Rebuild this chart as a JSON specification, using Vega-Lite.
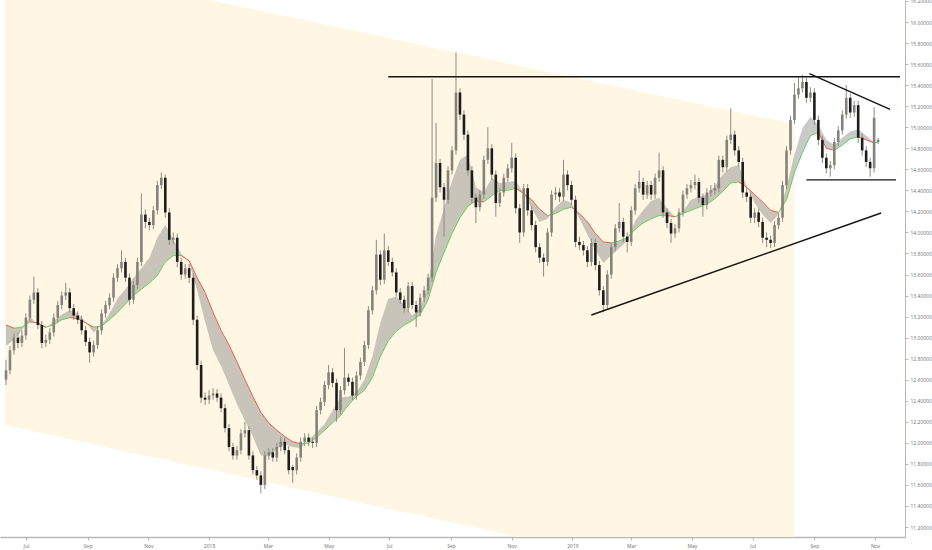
{
  "$schema": "https://vega.github.io/schema/vega-lite/v6.json",
  "width": 905,
  "height": 537,
  "autosize": {"type": "none"},
  "padding": {"left": 0, "top": 0, "right": 27, "bottom": 13},
  "background": "#ffffff",
  "view": {"stroke": null},
  "config": {
    "axis": {
      "labelFont": "Open Sans",
      "labelFontSize": 5,
      "labelColor": "#707070",
      "domainColor": "#b8b8b8",
      "tickColor": "#b8b8b8",
      "tickSize": 3,
      "grid": false,
      "title": null,
      "labelOverlap": false,
      "labelFlush": false
    }
  },
  "layer": [
    {
      "data": {
        "values": [
          {"date": "2017-06-10", "top": 16.62, "bottom": 12.17},
          {"date": "2019-08-12", "top": 15.03, "bottom": 10.53}
        ]
      },
      "mark": {"type": "area", "color": "#fff7e3", "clip": true},
      "encoding": {
        "x": {
          "field": "date", "type": "temporal", "title": null,
          "scale": {"type": "utc", "nice": false, "domain": [{"year": 2017, "month": 6, "date": 10, "utc": true}, {"year": 2019, "month": 11, "date": 26, "utc": true}]},
          "axis": {
            "orient": "bottom",
            "domainWidth": 1.5,
            "labelPadding": 3,
            "labelOverlap": false,
            "tickCount": 40,
            "values": [
              {"year": 2017, "month": 7, "date": 1, "utc": true},
              {"year": 2017, "month": 9, "date": 1, "utc": true},
              {"year": 2017, "month": 11, "date": 1, "utc": true},
              {"year": 2018, "month": 1, "date": 1, "utc": true},
              {"year": 2018, "month": 3, "date": 1, "utc": true},
              {"year": 2018, "month": 5, "date": 1, "utc": true},
              {"year": 2018, "month": 7, "date": 1, "utc": true},
              {"year": 2018, "month": 9, "date": 1, "utc": true},
              {"year": 2018, "month": 11, "date": 1, "utc": true},
              {"year": 2019, "month": 1, "date": 1, "utc": true},
              {"year": 2019, "month": 3, "date": 1, "utc": true},
              {"year": 2019, "month": 5, "date": 1, "utc": true},
              {"year": 2019, "month": 7, "date": 1, "utc": true},
              {"year": 2019, "month": 9, "date": 1, "utc": true},
              {"year": 2019, "month": 11, "date": 1, "utc": true}
            ],
            "labelExpr": "utcFormat(datum.value, '%m') == '01' ? utcFormat(datum.value, '%Y') : utcFormat(datum.value, '%b')"
          }
        },
        "y": {
          "field": "top", "type": "quantitative", "title": null,
          "scale": {"domain": [11.105, 16.2095], "nice": false, "zero": false},
          "axis": {
            "orient": "right",
            "labelPadding": 2,
            "labelOverlap": false,
            "labelBound": false,
            "tickCount": 40,
            "format": ".5f",
            "values": [11.2, 11.4, 11.6, 11.8, 12, 12.2, 12.4, 12.6, 12.8, 13, 13.2, 13.4, 13.6, 13.8, 14, 14.2, 14.4, 14.6, 14.8, 15, 15.2, 15.4, 15.6, 15.8, 16, 16.2]
          }
        },
        "y2": {"field": "bottom"}
      }
    },
    {
      "data": {
        "name": "ema",
        "values": [
          {"date": "2017-06-11", "slow": 13.12, "fast": 12.92},
          {"date": "2017-06-19", "slow": 13.09, "fast": 12.98},
          {"date": "2017-06-27", "slow": 13.10, "fast": 13.07},
          {"date": "2017-07-05", "slow": 13.15, "fast": 13.20},
          {"date": "2017-07-13", "slow": 13.14, "fast": 13.12},
          {"date": "2017-07-21", "slow": 13.10, "fast": 13.09},
          {"date": "2017-07-29", "slow": 13.12, "fast": 13.16},
          {"date": "2017-08-06", "slow": 13.17, "fast": 13.22},
          {"date": "2017-08-14", "slow": 13.19, "fast": 13.26},
          {"date": "2017-08-22", "slow": 13.18, "fast": 13.23},
          {"date": "2017-08-30", "slow": 13.14, "fast": 13.15},
          {"date": "2017-09-07", "slow": 13.10, "fast": 13.05},
          {"date": "2017-09-15", "slow": 13.11, "fast": 13.12},
          {"date": "2017-09-23", "slow": 13.17, "fast": 13.23},
          {"date": "2017-10-01", "slow": 13.24, "fast": 13.37},
          {"date": "2017-10-09", "slow": 13.32, "fast": 13.46},
          {"date": "2017-10-17", "slow": 13.40, "fast": 13.57},
          {"date": "2017-10-25", "slow": 13.46, "fast": 13.66},
          {"date": "2017-11-02", "slow": 13.52, "fast": 13.76},
          {"date": "2017-11-10", "slow": 13.59, "fast": 13.95},
          {"date": "2017-11-18", "slow": 13.72, "fast": 14.07},
          {"date": "2017-11-26", "slow": 13.78, "fast": 13.93},
          {"date": "2017-12-04", "slow": 13.78, "fast": 13.80},
          {"date": "2017-12-12", "slow": 13.73, "fast": 13.72},
          {"date": "2017-12-20", "slow": 13.57, "fast": 13.45},
          {"date": "2017-12-28", "slow": 13.43, "fast": 13.15},
          {"date": "2018-01-05", "slow": 13.24, "fast": 12.88},
          {"date": "2018-01-13", "slow": 13.07, "fast": 12.73},
          {"date": "2018-01-21", "slow": 12.93, "fast": 12.55},
          {"date": "2018-01-29", "slow": 12.77, "fast": 12.37},
          {"date": "2018-02-06", "slow": 12.60, "fast": 12.21},
          {"date": "2018-02-14", "slow": 12.44, "fast": 12.06},
          {"date": "2018-02-22", "slow": 12.29, "fast": 11.88},
          {"date": "2018-03-02", "slow": 12.19, "fast": 11.87},
          {"date": "2018-03-10", "slow": 12.12, "fast": 11.94},
          {"date": "2018-03-18", "slow": 12.06, "fast": 11.99},
          {"date": "2018-03-26", "slow": 12.01, "fast": 11.96},
          {"date": "2018-04-03", "slow": 11.99, "fast": 11.95},
          {"date": "2018-04-11", "slow": 12.00, "fast": 12.03},
          {"date": "2018-04-19", "slow": 12.05, "fast": 12.10},
          {"date": "2018-04-27", "slow": 12.12, "fast": 12.18},
          {"date": "2018-05-05", "slow": 12.19, "fast": 12.31},
          {"date": "2018-05-13", "slow": 12.26, "fast": 12.43},
          {"date": "2018-05-21", "slow": 12.36, "fast": 12.44},
          {"date": "2018-05-29", "slow": 12.44, "fast": 12.48},
          {"date": "2018-06-06", "slow": 12.50, "fast": 12.60},
          {"date": "2018-06-14", "slow": 12.62, "fast": 12.82},
          {"date": "2018-06-22", "slow": 12.82, "fast": 13.14},
          {"date": "2018-06-30", "slow": 12.97, "fast": 13.37},
          {"date": "2018-07-08", "slow": 13.06, "fast": 13.39},
          {"date": "2018-07-16", "slow": 13.12, "fast": 13.31},
          {"date": "2018-07-24", "slow": 13.16, "fast": 13.21},
          {"date": "2018-08-01", "slow": 13.22, "fast": 13.28},
          {"date": "2018-08-09", "slow": 13.36, "fast": 13.50},
          {"date": "2018-08-17", "slow": 13.62, "fast": 13.97},
          {"date": "2018-08-25", "slow": 13.81, "fast": 14.23},
          {"date": "2018-09-02", "slow": 13.99, "fast": 14.49},
          {"date": "2018-09-10", "slow": 14.14, "fast": 14.69},
          {"date": "2018-09-18", "slow": 14.25, "fast": 14.74},
          {"date": "2018-09-26", "slow": 14.30, "fast": 14.43},
          {"date": "2018-10-04", "slow": 14.29, "fast": 14.38},
          {"date": "2018-10-12", "slow": 14.35, "fast": 14.52},
          {"date": "2018-10-20", "slow": 14.40, "fast": 14.47},
          {"date": "2018-10-28", "slow": 14.40, "fast": 14.48},
          {"date": "2018-11-05", "slow": 14.42, "fast": 14.49},
          {"date": "2018-11-13", "slow": 14.37, "fast": 14.37},
          {"date": "2018-11-21", "slow": 14.31, "fast": 14.23},
          {"date": "2018-11-29", "slow": 14.22, "fast": 14.10},
          {"date": "2018-12-07", "slow": 14.16, "fast": 14.13},
          {"date": "2018-12-15", "slow": 14.18, "fast": 14.24},
          {"date": "2018-12-23", "slow": 14.22, "fast": 14.31},
          {"date": "2018-12-31", "slow": 14.24, "fast": 14.28},
          {"date": "2019-01-08", "slow": 14.18, "fast": 14.13},
          {"date": "2019-01-16", "slow": 14.10, "fast": 13.98},
          {"date": "2019-01-24", "slow": 13.99, "fast": 13.83},
          {"date": "2019-02-01", "slow": 13.91, "fast": 13.71},
          {"date": "2019-02-09", "slow": 13.90, "fast": 13.78},
          {"date": "2019-02-17", "slow": 13.92, "fast": 13.85},
          {"date": "2019-02-25", "slow": 13.95, "fast": 13.92},
          {"date": "2019-03-05", "slow": 14.03, "fast": 14.11},
          {"date": "2019-03-13", "slow": 14.09, "fast": 14.21},
          {"date": "2019-03-21", "slow": 14.13, "fast": 14.30},
          {"date": "2019-03-29", "slow": 14.16, "fast": 14.33},
          {"date": "2019-04-06", "slow": 14.16, "fast": 14.23},
          {"date": "2019-04-14", "slow": 14.15, "fast": 14.15},
          {"date": "2019-04-22", "slow": 14.18, "fast": 14.20},
          {"date": "2019-04-30", "slow": 14.21, "fast": 14.31},
          {"date": "2019-05-08", "slow": 14.24, "fast": 14.34},
          {"date": "2019-05-16", "slow": 14.27, "fast": 14.36},
          {"date": "2019-05-24", "slow": 14.32, "fast": 14.44},
          {"date": "2019-06-01", "slow": 14.39, "fast": 14.55},
          {"date": "2019-06-09", "slow": 14.47, "fast": 14.62},
          {"date": "2019-06-17", "slow": 14.48, "fast": 14.64},
          {"date": "2019-06-25", "slow": 14.43, "fast": 14.44},
          {"date": "2019-07-03", "slow": 14.36, "fast": 14.28},
          {"date": "2019-07-11", "slow": 14.29, "fast": 14.17},
          {"date": "2019-07-19", "slow": 14.21, "fast": 14.09},
          {"date": "2019-07-27", "slow": 14.19, "fast": 14.17},
          {"date": "2019-08-04", "slow": 14.31, "fast": 14.43},
          {"date": "2019-08-12", "slow": 14.57, "fast": 14.74},
          {"date": "2019-08-20", "slow": 14.76, "fast": 14.99},
          {"date": "2019-08-28", "slow": 14.92, "fast": 15.10},
          {"date": "2019-09-05", "slow": 14.95, "fast": 15.02},
          {"date": "2019-09-13", "slow": 14.80, "fast": 14.88},
          {"date": "2019-09-21", "slow": 14.78, "fast": 14.83},
          {"date": "2019-09-29", "slow": 14.83, "fast": 14.90},
          {"date": "2019-10-07", "slow": 14.89, "fast": 14.96},
          {"date": "2019-10-15", "slow": 14.91, "fast": 14.98},
          {"date": "2019-10-23", "slow": 14.88, "fast": 14.92},
          {"date": "2019-10-31", "slow": 14.85, "fast": 14.86},
          {"date": "2019-11-04", "slow": 14.86, "fast": 14.85}
        ],
        "format": {"parse": {"date": "date"}}
      },
      "layer": [
        {
          "mark": {"type": "area", "color": "#7f7f7f", "opacity": 0.42, "clip": true},
          "encoding": {
            "x": {"field": "date", "type": "temporal", "title": null, "scale": {"type": "utc", "nice": false, "domain": [{"year": 2017, "month": 6, "date": 10, "utc": true}, {"year": 2019, "month": 11, "date": 26, "utc": true}]}},
            "y": {"field": "fast", "type": "quantitative", "title": null, "scale": {"domain": [11.105, 16.2095], "nice": false, "zero": false}},
            "y2": {"field": "slow"}
          }
        },
        {
          "transform": [
            {"window": [{"op": "lead", "field": "slow", "as": "slowNext"}, {"op": "lead", "field": "date", "as": "dateNext"}], "sort": [{"field": "date"}]},
            {"filter": "datum.slowNext != null"}
          ],
          "mark": {"type": "rule", "strokeWidth": 1, "clip": true},
          "encoding": {
            "x": {"field": "date", "type": "temporal", "title": null, "scale": {"type": "utc", "nice": false, "domain": [{"year": 2017, "month": 6, "date": 10, "utc": true}, {"year": 2019, "month": 11, "date": 26, "utc": true}]}},
            "x2": {"field": "dateNext"},
            "y": {"field": "slow", "type": "quantitative", "title": null, "scale": {"domain": [11.105, 16.2095], "nice": false, "zero": false}},
            "y2": {"field": "slowNext"},
            "color": {"condition": {"test": "datum.slowNext >= datum.slow", "value": "#5fd35f"}, "value": "#e9604c"}
          }
        }
      ]
    },
    {
      "data": {
        "values": [
          {"date": "2017-06-11", "open": 12.60, "high": 12.79, "low": 12.55, "close": 12.69},
          {"date": "2017-06-15", "open": 12.69, "high": 12.92, "low": 12.65, "close": 12.88},
          {"date": "2017-06-19", "open": 12.88, "high": 13.04, "low": 12.84, "close": 13.00},
          {"date": "2017-06-23", "open": 13.00, "high": 13.05, "low": 12.90, "close": 12.95},
          {"date": "2017-06-27", "open": 12.95, "high": 13.07, "low": 12.91, "close": 13.02},
          {"date": "2017-07-01", "open": 13.02, "high": 13.23, "low": 12.98, "close": 13.19},
          {"date": "2017-07-05", "open": 13.19, "high": 13.40, "low": 13.15, "close": 13.36},
          {"date": "2017-07-09", "open": 13.36, "high": 13.58, "low": 13.32, "close": 13.43},
          {"date": "2017-07-13", "open": 13.43, "high": 13.47, "low": 13.08, "close": 13.12},
          {"date": "2017-07-17", "open": 13.12, "high": 13.16, "low": 12.90, "close": 12.95},
          {"date": "2017-07-21", "open": 12.95, "high": 13.03, "low": 12.91, "close": 12.98},
          {"date": "2017-07-25", "open": 12.98, "high": 13.09, "low": 12.94, "close": 13.05},
          {"date": "2017-07-29", "open": 13.05, "high": 13.23, "low": 13.01, "close": 13.19},
          {"date": "2017-08-02", "open": 13.19, "high": 13.35, "low": 13.15, "close": 13.31},
          {"date": "2017-08-06", "open": 13.31, "high": 13.44, "low": 13.27, "close": 13.40},
          {"date": "2017-08-10", "open": 13.40, "high": 13.52, "low": 13.36, "close": 13.43},
          {"date": "2017-08-14", "open": 13.43, "high": 13.47, "low": 13.24, "close": 13.28},
          {"date": "2017-08-18", "open": 13.28, "high": 13.32, "low": 13.17, "close": 13.21},
          {"date": "2017-08-22", "open": 13.21, "high": 13.25, "low": 13.13, "close": 13.17},
          {"date": "2017-08-26", "open": 13.17, "high": 13.21, "low": 13.03, "close": 13.07},
          {"date": "2017-08-30", "open": 13.07, "high": 13.11, "low": 12.92, "close": 12.96},
          {"date": "2017-09-03", "open": 12.96, "high": 13.00, "low": 12.76, "close": 12.86},
          {"date": "2017-09-07", "open": 12.86, "high": 12.97, "low": 12.82, "close": 12.93},
          {"date": "2017-09-11", "open": 12.93, "high": 13.11, "low": 12.89, "close": 13.07},
          {"date": "2017-09-15", "open": 13.07, "high": 13.27, "low": 13.03, "close": 13.23},
          {"date": "2017-09-19", "open": 13.23, "high": 13.35, "low": 13.19, "close": 13.31},
          {"date": "2017-09-23", "open": 13.31, "high": 13.42, "low": 13.27, "close": 13.38},
          {"date": "2017-09-27", "open": 13.38, "high": 13.61, "low": 13.34, "close": 13.57},
          {"date": "2017-10-01", "open": 13.57, "high": 13.70, "low": 13.53, "close": 13.66},
          {"date": "2017-10-05", "open": 13.66, "high": 13.83, "low": 13.62, "close": 13.72},
          {"date": "2017-10-09", "open": 13.72, "high": 13.76, "low": 13.53, "close": 13.57},
          {"date": "2017-10-13", "open": 13.57, "high": 13.61, "low": 13.31, "close": 13.36},
          {"date": "2017-10-17", "open": 13.36, "high": 13.54, "low": 13.32, "close": 13.50},
          {"date": "2017-10-21", "open": 13.50, "high": 13.76, "low": 13.46, "close": 13.72},
          {"date": "2017-10-25", "open": 13.72, "high": 14.37, "low": 13.68, "close": 14.17},
          {"date": "2017-10-29", "open": 14.17, "high": 14.22, "low": 14.04, "close": 14.10},
          {"date": "2017-11-02", "open": 14.10, "high": 14.14, "low": 14.02, "close": 14.07},
          {"date": "2017-11-06", "open": 14.07, "high": 14.25, "low": 14.03, "close": 14.21},
          {"date": "2017-11-10", "open": 14.21, "high": 14.49, "low": 14.17, "close": 14.45},
          {"date": "2017-11-14", "open": 14.45, "high": 14.57, "low": 14.41, "close": 14.52},
          {"date": "2017-11-18", "open": 14.52, "high": 14.55, "low": 14.14, "close": 14.19},
          {"date": "2017-11-22", "open": 14.19, "high": 14.23, "low": 13.88, "close": 13.93},
          {"date": "2017-11-26", "open": 13.93, "high": 14.00, "low": 13.89, "close": 13.95},
          {"date": "2017-11-30", "open": 13.95, "high": 13.99, "low": 13.67, "close": 13.72},
          {"date": "2017-12-04", "open": 13.72, "high": 13.76, "low": 13.55, "close": 13.60},
          {"date": "2017-12-08", "open": 13.60, "high": 13.70, "low": 13.56, "close": 13.66},
          {"date": "2017-12-12", "open": 13.66, "high": 13.70, "low": 13.52, "close": 13.57},
          {"date": "2017-12-16", "open": 13.57, "high": 13.61, "low": 13.12, "close": 13.17},
          {"date": "2017-12-20", "open": 13.17, "high": 13.21, "low": 12.69, "close": 12.74},
          {"date": "2017-12-24", "open": 12.74, "high": 12.78, "low": 12.38, "close": 12.43},
          {"date": "2017-12-28", "open": 12.43, "high": 12.48, "low": 12.36, "close": 12.41},
          {"date": "2018-01-01", "open": 12.41, "high": 12.50, "low": 12.37, "close": 12.45},
          {"date": "2018-01-05", "open": 12.45, "high": 12.52, "low": 12.41, "close": 12.47},
          {"date": "2018-01-09", "open": 12.47, "high": 12.51, "low": 12.39, "close": 12.43},
          {"date": "2018-01-13", "open": 12.43, "high": 12.47, "low": 12.29, "close": 12.33},
          {"date": "2018-01-17", "open": 12.33, "high": 12.37, "low": 12.10, "close": 12.14},
          {"date": "2018-01-21", "open": 12.14, "high": 12.18, "low": 11.92, "close": 11.96},
          {"date": "2018-01-25", "open": 11.96, "high": 12.00, "low": 11.84, "close": 11.88},
          {"date": "2018-01-29", "open": 11.88, "high": 11.97, "low": 11.84, "close": 11.93},
          {"date": "2018-02-02", "open": 11.93, "high": 12.13, "low": 11.89, "close": 12.09},
          {"date": "2018-02-06", "open": 12.09, "high": 12.20, "low": 12.05, "close": 12.12},
          {"date": "2018-02-10", "open": 12.12, "high": 12.16, "low": 11.84, "close": 11.88},
          {"date": "2018-02-14", "open": 11.88, "high": 11.92, "low": 11.70, "close": 11.74},
          {"date": "2018-02-18", "open": 11.74, "high": 11.78, "low": 11.65, "close": 11.69},
          {"date": "2018-02-22", "open": 11.69, "high": 11.73, "low": 11.52, "close": 11.60},
          {"date": "2018-02-26", "open": 11.60, "high": 11.92, "low": 11.56, "close": 11.88},
          {"date": "2018-03-02", "open": 11.88, "high": 11.95, "low": 11.84, "close": 11.91},
          {"date": "2018-03-06", "open": 11.91, "high": 11.95, "low": 11.82, "close": 11.86},
          {"date": "2018-03-10", "open": 11.86, "high": 12.00, "low": 11.82, "close": 11.96},
          {"date": "2018-03-14", "open": 11.96, "high": 12.06, "low": 11.92, "close": 12.01},
          {"date": "2018-03-18", "open": 12.01, "high": 12.05, "low": 11.89, "close": 11.93},
          {"date": "2018-03-22", "open": 11.93, "high": 11.97, "low": 11.70, "close": 11.74},
          {"date": "2018-03-26", "open": 11.77, "high": 11.79, "low": 11.62, "close": 11.74},
          {"date": "2018-03-30", "open": 11.74, "high": 11.90, "low": 11.70, "close": 11.86},
          {"date": "2018-04-03", "open": 11.86, "high": 12.05, "low": 11.82, "close": 12.01},
          {"date": "2018-04-07", "open": 12.01, "high": 12.09, "low": 11.97, "close": 12.05},
          {"date": "2018-04-11", "open": 12.05, "high": 12.09, "low": 11.97, "close": 12.01},
          {"date": "2018-04-15", "open": 12.01, "high": 12.05, "low": 11.95, "close": 12.00},
          {"date": "2018-04-19", "open": 12.00, "high": 12.35, "low": 11.96, "close": 12.31},
          {"date": "2018-04-23", "open": 12.31, "high": 12.43, "low": 12.27, "close": 12.39},
          {"date": "2018-04-27", "open": 12.39, "high": 12.59, "low": 12.35, "close": 12.55},
          {"date": "2018-05-01", "open": 12.55, "high": 12.74, "low": 12.51, "close": 12.67},
          {"date": "2018-05-05", "open": 12.67, "high": 12.71, "low": 12.53, "close": 12.57},
          {"date": "2018-05-09", "open": 12.57, "high": 12.61, "low": 12.20, "close": 12.31},
          {"date": "2018-05-13", "open": 12.31, "high": 12.54, "low": 12.27, "close": 12.50},
          {"date": "2018-05-17", "open": 12.50, "high": 12.90, "low": 12.46, "close": 12.62},
          {"date": "2018-05-21", "open": 12.62, "high": 12.66, "low": 12.54, "close": 12.58},
          {"date": "2018-05-25", "open": 12.58, "high": 12.62, "low": 12.41, "close": 12.45},
          {"date": "2018-05-29", "open": 12.45, "high": 12.68, "low": 12.41, "close": 12.64},
          {"date": "2018-06-02", "open": 12.64, "high": 12.81, "low": 12.60, "close": 12.77},
          {"date": "2018-06-06", "open": 12.77, "high": 12.97, "low": 12.73, "close": 12.93},
          {"date": "2018-06-10", "open": 12.93, "high": 13.30, "low": 12.89, "close": 13.26},
          {"date": "2018-06-14", "open": 13.26, "high": 13.49, "low": 13.22, "close": 13.45},
          {"date": "2018-06-18", "open": 13.45, "high": 13.93, "low": 13.41, "close": 13.79},
          {"date": "2018-06-22", "open": 13.79, "high": 13.83, "low": 13.50, "close": 13.55},
          {"date": "2018-06-26", "open": 13.55, "high": 13.99, "low": 13.51, "close": 13.83},
          {"date": "2018-06-30", "open": 13.83, "high": 13.87, "low": 13.68, "close": 13.72},
          {"date": "2018-07-04", "open": 13.72, "high": 13.76, "low": 13.58, "close": 13.62},
          {"date": "2018-07-08", "open": 13.62, "high": 13.66, "low": 13.39, "close": 13.43},
          {"date": "2018-07-12", "open": 13.43, "high": 13.47, "low": 13.32, "close": 13.36},
          {"date": "2018-07-16", "open": 13.36, "high": 13.40, "low": 13.24, "close": 13.28},
          {"date": "2018-07-20", "open": 13.28, "high": 13.53, "low": 13.24, "close": 13.49},
          {"date": "2018-07-24", "open": 13.49, "high": 13.53, "low": 13.27, "close": 13.31},
          {"date": "2018-07-28", "open": 13.31, "high": 13.35, "low": 13.10, "close": 13.24},
          {"date": "2018-08-01", "open": 13.24, "high": 13.42, "low": 13.20, "close": 13.38},
          {"date": "2018-08-05", "open": 13.38, "high": 13.49, "low": 13.34, "close": 13.45},
          {"date": "2018-08-09", "open": 13.45, "high": 13.61, "low": 13.41, "close": 13.57},
          {"date": "2018-08-13", "open": 13.57, "high": 15.46, "low": 13.53, "close": 14.33},
          {"date": "2018-08-17", "open": 14.33, "high": 15.04, "low": 14.29, "close": 14.66},
          {"date": "2018-08-21", "open": 14.66, "high": 14.70, "low": 14.38, "close": 14.43},
          {"date": "2018-08-25", "open": 14.43, "high": 14.47, "low": 13.96, "close": 14.31},
          {"date": "2018-08-29", "open": 14.31, "high": 14.63, "low": 14.27, "close": 14.59},
          {"date": "2018-09-02", "open": 14.59, "high": 14.82, "low": 14.55, "close": 14.78},
          {"date": "2018-09-06", "open": 14.78, "high": 15.71, "low": 14.74, "close": 15.33},
          {"date": "2018-09-10", "open": 15.33, "high": 15.37, "low": 15.07, "close": 15.12},
          {"date": "2018-09-14", "open": 15.12, "high": 15.16, "low": 14.88, "close": 14.93},
          {"date": "2018-09-18", "open": 14.93, "high": 14.97, "low": 14.54, "close": 14.59},
          {"date": "2018-09-22", "open": 14.59, "high": 14.63, "low": 14.28, "close": 14.33},
          {"date": "2018-09-26", "open": 14.33, "high": 14.37, "low": 14.09, "close": 14.24},
          {"date": "2018-09-30", "open": 14.24, "high": 14.40, "low": 14.20, "close": 14.36},
          {"date": "2018-10-04", "open": 14.36, "high": 14.73, "low": 14.32, "close": 14.69},
          {"date": "2018-10-08", "open": 14.69, "high": 15.00, "low": 14.65, "close": 14.80},
          {"date": "2018-10-12", "open": 14.80, "high": 14.84, "low": 14.50, "close": 14.55},
          {"date": "2018-10-16", "open": 14.55, "high": 14.59, "low": 14.15, "close": 14.28},
          {"date": "2018-10-20", "open": 14.28, "high": 14.42, "low": 14.24, "close": 14.38},
          {"date": "2018-10-24", "open": 14.38, "high": 14.56, "low": 14.34, "close": 14.52},
          {"date": "2018-10-28", "open": 14.52, "high": 14.65, "low": 14.48, "close": 14.61},
          {"date": "2018-11-01", "open": 14.61, "high": 14.85, "low": 14.57, "close": 14.71},
          {"date": "2018-11-05", "open": 14.71, "high": 14.75, "low": 14.18, "close": 14.23},
          {"date": "2018-11-09", "open": 14.23, "high": 14.27, "low": 13.90, "close": 14.00},
          {"date": "2018-11-13", "open": 14.00, "high": 14.46, "low": 13.96, "close": 14.42},
          {"date": "2018-11-17", "open": 14.42, "high": 14.46, "low": 14.16, "close": 14.21},
          {"date": "2018-11-21", "open": 14.21, "high": 14.25, "low": 14.02, "close": 14.07},
          {"date": "2018-11-25", "open": 14.07, "high": 14.11, "low": 13.81, "close": 13.86},
          {"date": "2018-11-29", "open": 13.86, "high": 13.90, "low": 13.71, "close": 13.76},
          {"date": "2018-12-03", "open": 13.76, "high": 13.80, "low": 13.58, "close": 13.72},
          {"date": "2018-12-07", "open": 13.72, "high": 14.04, "low": 13.68, "close": 14.00},
          {"date": "2018-12-11", "open": 14.00, "high": 14.40, "low": 13.96, "close": 14.36},
          {"date": "2018-12-15", "open": 14.36, "high": 14.43, "low": 14.31, "close": 14.38},
          {"date": "2018-12-19", "open": 14.38, "high": 14.42, "low": 14.29, "close": 14.34},
          {"date": "2018-12-23", "open": 14.34, "high": 14.69, "low": 14.30, "close": 14.55},
          {"date": "2018-12-27", "open": 14.55, "high": 14.59, "low": 14.40, "close": 14.45},
          {"date": "2018-12-31", "open": 14.45, "high": 14.49, "low": 14.26, "close": 14.31},
          {"date": "2019-01-04", "open": 14.31, "high": 14.35, "low": 13.86, "close": 13.91},
          {"date": "2019-01-08", "open": 13.91, "high": 13.96, "low": 13.83, "close": 13.88},
          {"date": "2019-01-12", "open": 13.88, "high": 13.92, "low": 13.78, "close": 13.83},
          {"date": "2019-01-16", "open": 13.83, "high": 13.87, "low": 13.67, "close": 13.72},
          {"date": "2019-01-20", "open": 13.72, "high": 13.94, "low": 13.68, "close": 13.90},
          {"date": "2019-01-24", "open": 13.90, "high": 13.94, "low": 13.64, "close": 13.69},
          {"date": "2019-01-28", "open": 13.69, "high": 13.73, "low": 13.40, "close": 13.45},
          {"date": "2019-02-01", "open": 13.45, "high": 13.49, "low": 13.24, "close": 13.31},
          {"date": "2019-02-05", "open": 13.31, "high": 13.64, "low": 13.27, "close": 13.60},
          {"date": "2019-02-09", "open": 13.60, "high": 13.90, "low": 13.56, "close": 13.86},
          {"date": "2019-02-13", "open": 13.86, "high": 14.08, "low": 13.82, "close": 14.04},
          {"date": "2019-02-17", "open": 14.04, "high": 14.28, "low": 14.00, "close": 14.10},
          {"date": "2019-02-21", "open": 14.10, "high": 14.14, "low": 13.91, "close": 13.96},
          {"date": "2019-02-25", "open": 13.96, "high": 14.00, "low": 13.81, "close": 13.91},
          {"date": "2019-03-01", "open": 13.91, "high": 14.25, "low": 13.87, "close": 14.21},
          {"date": "2019-03-05", "open": 14.21, "high": 14.46, "low": 14.17, "close": 14.42},
          {"date": "2019-03-09", "open": 14.42, "high": 14.59, "low": 14.38, "close": 14.48},
          {"date": "2019-03-13", "open": 14.48, "high": 14.52, "low": 14.31, "close": 14.36},
          {"date": "2019-03-17", "open": 14.36, "high": 14.49, "low": 14.32, "close": 14.45},
          {"date": "2019-03-21", "open": 14.45, "high": 14.49, "low": 14.31, "close": 14.36},
          {"date": "2019-03-25", "open": 14.36, "high": 14.56, "low": 14.32, "close": 14.52},
          {"date": "2019-03-29", "open": 14.52, "high": 14.76, "low": 14.48, "close": 14.59},
          {"date": "2019-04-02", "open": 14.59, "high": 14.63, "low": 14.14, "close": 14.19},
          {"date": "2019-04-06", "open": 14.19, "high": 14.23, "low": 14.04, "close": 14.09},
          {"date": "2019-04-10", "open": 14.09, "high": 14.13, "low": 13.90, "close": 13.99},
          {"date": "2019-04-14", "open": 13.99, "high": 14.08, "low": 13.95, "close": 14.04},
          {"date": "2019-04-18", "open": 14.04, "high": 14.23, "low": 14.00, "close": 14.19},
          {"date": "2019-04-22", "open": 14.19, "high": 14.40, "low": 14.15, "close": 14.36},
          {"date": "2019-04-26", "open": 14.36, "high": 14.46, "low": 14.32, "close": 14.42},
          {"date": "2019-04-30", "open": 14.42, "high": 14.50, "low": 14.38, "close": 14.45},
          {"date": "2019-05-04", "open": 14.45, "high": 14.55, "low": 14.41, "close": 14.48},
          {"date": "2019-05-08", "open": 14.48, "high": 14.52, "low": 14.28, "close": 14.33},
          {"date": "2019-05-12", "open": 14.33, "high": 14.37, "low": 14.15, "close": 14.26},
          {"date": "2019-05-16", "open": 14.26, "high": 14.42, "low": 14.22, "close": 14.38},
          {"date": "2019-05-20", "open": 14.38, "high": 14.45, "low": 14.34, "close": 14.40},
          {"date": "2019-05-24", "open": 14.40, "high": 14.47, "low": 14.36, "close": 14.42},
          {"date": "2019-05-28", "open": 14.42, "high": 14.73, "low": 14.38, "close": 14.69},
          {"date": "2019-06-01", "open": 14.69, "high": 14.73, "low": 14.57, "close": 14.62},
          {"date": "2019-06-05", "open": 14.62, "high": 14.92, "low": 14.58, "close": 14.88},
          {"date": "2019-06-09", "open": 14.88, "high": 15.18, "low": 14.84, "close": 14.93},
          {"date": "2019-06-13", "open": 14.93, "high": 14.97, "low": 14.73, "close": 14.78},
          {"date": "2019-06-17", "open": 14.78, "high": 14.82, "low": 14.62, "close": 14.67},
          {"date": "2019-06-21", "open": 14.67, "high": 14.71, "low": 14.33, "close": 14.38},
          {"date": "2019-06-25", "open": 14.38, "high": 14.43, "low": 14.29, "close": 14.34},
          {"date": "2019-06-29", "open": 14.34, "high": 14.38, "low": 14.09, "close": 14.14},
          {"date": "2019-07-03", "open": 14.14, "high": 14.23, "low": 14.09, "close": 14.19},
          {"date": "2019-07-07", "open": 14.19, "high": 14.23, "low": 14.05, "close": 14.10},
          {"date": "2019-07-11", "open": 14.10, "high": 14.14, "low": 13.90, "close": 13.95},
          {"date": "2019-07-15", "open": 13.95, "high": 14.00, "low": 13.86, "close": 13.93},
          {"date": "2019-07-19", "open": 13.93, "high": 13.97, "low": 13.85, "close": 13.90},
          {"date": "2019-07-23", "open": 13.90, "high": 14.11, "low": 13.86, "close": 14.07},
          {"date": "2019-07-27", "open": 14.07, "high": 14.18, "low": 14.03, "close": 14.14},
          {"date": "2019-07-31", "open": 14.14, "high": 14.49, "low": 14.10, "close": 14.45},
          {"date": "2019-08-04", "open": 14.45, "high": 14.82, "low": 14.41, "close": 14.78},
          {"date": "2019-08-08", "open": 14.78, "high": 15.11, "low": 14.74, "close": 15.07},
          {"date": "2019-08-12", "open": 15.07, "high": 15.42, "low": 15.03, "close": 15.31},
          {"date": "2019-08-16", "open": 15.31, "high": 15.48, "low": 15.27, "close": 15.37},
          {"date": "2019-08-20", "open": 15.37, "high": 15.50, "low": 15.33, "close": 15.43},
          {"date": "2019-08-24", "open": 15.43, "high": 15.47, "low": 15.23, "close": 15.28},
          {"date": "2019-08-28", "open": 15.28, "high": 15.38, "low": 15.24, "close": 15.33},
          {"date": "2019-09-01", "open": 15.33, "high": 15.37, "low": 15.02, "close": 15.07},
          {"date": "2019-09-05", "open": 15.07, "high": 15.11, "low": 14.83, "close": 14.88},
          {"date": "2019-09-09", "open": 14.88, "high": 14.92, "low": 14.66, "close": 14.71},
          {"date": "2019-09-13", "open": 14.71, "high": 14.75, "low": 14.56, "close": 14.61},
          {"date": "2019-09-17", "open": 14.61, "high": 14.68, "low": 14.53, "close": 14.64},
          {"date": "2019-09-21", "open": 14.64, "high": 14.90, "low": 14.60, "close": 14.86},
          {"date": "2019-09-25", "open": 14.86, "high": 15.01, "low": 14.82, "close": 14.97},
          {"date": "2019-09-29", "open": 14.97, "high": 15.16, "low": 14.93, "close": 15.12},
          {"date": "2019-10-03", "open": 15.12, "high": 15.40, "low": 15.08, "close": 15.28},
          {"date": "2019-10-07", "open": 15.28, "high": 15.32, "low": 15.09, "close": 15.14},
          {"date": "2019-10-11", "open": 15.14, "high": 15.25, "low": 15.10, "close": 15.21},
          {"date": "2019-10-15", "open": 15.21, "high": 15.25, "low": 14.85, "close": 14.90},
          {"date": "2019-10-19", "open": 14.90, "high": 14.94, "low": 14.73, "close": 14.78},
          {"date": "2019-10-23", "open": 14.78, "high": 14.82, "low": 14.62, "close": 14.67},
          {"date": "2019-10-27", "open": 14.67, "high": 14.71, "low": 14.53, "close": 14.61},
          {"date": "2019-10-31", "open": 14.61, "high": 15.19, "low": 14.57, "close": 15.09},
          {"date": "2019-11-04", "open": 14.86, "high": 14.90, "low": 14.84, "close": 14.88}
        ],
        "format": {"parse": {"date": "date"}}
      },
      "layer": [
        {
          "mark": {"type": "rule", "color": "#8e8b83", "strokeWidth": 1, "clip": true},
          "encoding": {
            "x": {"field": "date", "type": "temporal", "title": null, "scale": {"type": "utc", "nice": false, "domain": [{"year": 2017, "month": 6, "date": 10, "utc": true}, {"year": 2019, "month": 11, "date": 26, "utc": true}]}},
            "y": {"field": "low", "type": "quantitative", "title": null, "scale": {"domain": [11.105, 16.2095], "nice": false, "zero": false}},
            "y2": {"field": "high"}
          }
        },
        {
          "mark": {"type": "bar", "size": 2.6, "clip": true},
          "encoding": {
            "x": {"field": "date", "type": "temporal", "title": null, "scale": {"type": "utc", "nice": false, "domain": [{"year": 2017, "month": 6, "date": 10, "utc": true}, {"year": 2019, "month": 11, "date": 26, "utc": true}]}},
            "y": {"field": "open", "type": "quantitative", "title": null, "scale": {"domain": [11.105, 16.2095], "nice": false, "zero": false}},
            "y2": {"field": "close"},
            "color": {"condition": {"test": "datum.close >= datum.open", "value": "#85827a"}, "value": "#1d1d1d"}
          }
        }
      ]
    },
    {
      "data": {
        "values": [
          {"line": "resistance", "date": "2018-06-30", "date2": "2019-11-26", "price": 15.48, "price2": 15.48},
          {"line": "upper", "date": "2019-08-27", "date2": "2019-11-16", "price": 15.51, "price2": 15.17},
          {"line": "floor", "date": "2019-08-24", "date2": "2019-11-22", "price": 14.50, "price2": 14.50},
          {"line": "support", "date": "2019-01-20", "date2": "2019-11-07", "price": 13.215, "price2": 14.185}
        ],
        "format": {"parse": {"date": "date", "date2": "date"}}
      },
      "mark": {"type": "rule", "color": "#151515", "strokeWidth": 1.4, "clip": true},
      "encoding": {
        "x": {"field": "date", "type": "temporal", "title": null, "scale": {"type": "utc", "nice": false, "domain": [{"year": 2017, "month": 6, "date": 10, "utc": true}, {"year": 2019, "month": 11, "date": 26, "utc": true}]}},
        "x2": {"field": "date2"},
        "y": {"field": "price", "type": "quantitative", "title": null, "scale": {"domain": [11.105, 16.2095], "nice": false, "zero": false}},
        "y2": {"field": "price2"}
      }
    }
  ]
}
